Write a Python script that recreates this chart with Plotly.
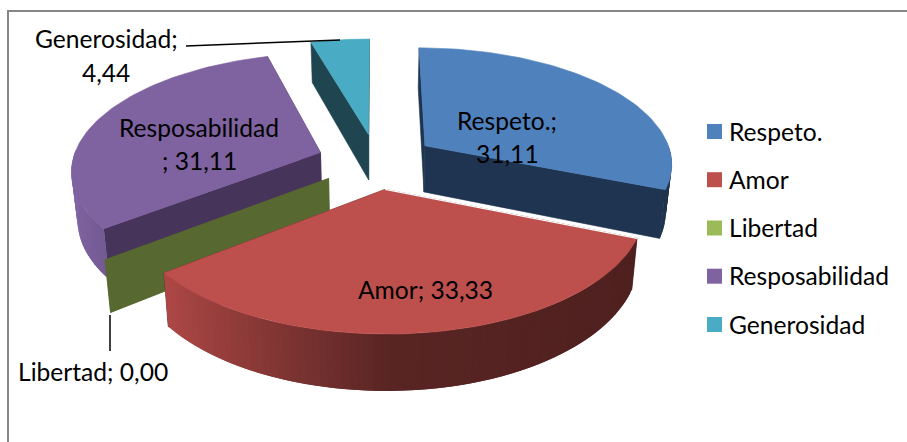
import numpy as np
import plotly.graph_objects as go

categories = ["Respeto.", "Amor", "Libertad", "Resposabilidad", "Generosidad"]
values = [31.11, 33.33, 0.00, 31.11, 4.44]

top_colors = ["#4f81bd", "#bd504d", "#9bbb59", "#7f62a0", "#4aabc5"]
cut_colors = ["#1f3450", "#4e201f", "#576831", "#46345a", "#1f4650"]
base_rgb = [(79, 129, 189), (192, 80, 77), (155, 187, 89), (128, 100, 162), (75, 172, 198)]
draw_order = [4, 0, 3, 2, 1]

CX, CY, R, A, P, D, Q, EXPL = 376.5, 161, 248, 115.6, 0.14, 47, 0.02, 0.24


def project(u, v, low=False):
    s = 1 / (1 - P * v)
    x = CX + R * u * s
    y = CY + A * v * s
    if low:
        x = CX + (x - CX) * (1 - Q)
        y = y + D * s
    return x, y


def shade(theta):
    sn = np.sin(theta)
    return 0.47 + 0.55 * (-sn) if sn < 0 else 0.47 - 0.07 * sn


fig = go.Figure()


def poly(xs, ys, color, lw=0.6):
    fig.add_trace(go.Scatter(x=list(xs), y=list(ys), mode="lines", fill="toself",
                             fillcolor=color, line=dict(color=color, width=lw),
                             hoverinfo="skip", showlegend=False))


total = sum(values)
bounds = np.cumsum([0] + values) / total * 2 * np.pi

for i in draw_order:
    a0, a1 = bounds[i], bounds[i + 1]
    mid = (a0 + a1) / 2
    ou, ov = EXPL * np.sin(mid), -EXPL * np.cos(mid)
    n = max(2, int(np.degrees(a1 - a0) / 1.5) + 1)
    ts = np.linspace(a0, a1, n)
    us = ou + np.sin(ts)
    vs = ov - np.cos(ts)
    # cut walls
    for t in (a0, a1):
        eu, ev = ou + np.sin(t), ov - np.cos(t)
        p1, p2 = project(ou, ov), project(eu, ev)
        p3, p4 = project(eu, ev, True), project(ou, ov, True)
        poly([p1[0], p2[0], p3[0], p4[0], p1[0]], [p1[1], p2[1], p3[1], p4[1], p1[1]], cut_colors[i])
    # outer wall in shaded strips (front-facing part only); strips overlap so no seam shows
    if a1 > a0:
        for j in range(n - 1):
            k = min(j + 2, n - 1)
            tm = (ts[j] + ts[j + 1]) / 2
            if np.cos(tm) > 0:
                continue
            f = shade(tm)
            r, g, b = base_rgb[i]
            col = f"rgb({int(r * f)},{int(g * f)},{int(b * f)})"
            p1, p2 = project(us[j], vs[j]), project(us[k], vs[k])
            p3, p4 = project(us[k], vs[k], True), project(us[j], vs[j], True)
            poly([p1[0], p2[0], p3[0], p4[0], p1[0]], [p1[1], p2[1], p3[1], p4[1], p1[1]], col, 0)
        # top face
        px, py = project(us, vs)
        ax, ay = project(ou, ov)
        poly([ax, *px, ax], [ay, *py, ay], top_colors[i])
    if categories[i] == "Amor":
        ex, ey = project(us[0], vs[0])
        ax, ay = project(ou, ov)
        fig.add_trace(go.Scatter(x=[ax, ex], y=[ay, ey], mode="lines",
                                 line=dict(color="white", width=1.2),
                                 hoverinfo="skip", showlegend=False))

# legend swatches
legend_y = [131.5, 179.7, 228, 276.2, 324.5]
fig.add_trace(go.Scatter(x=[714.5] * 5, y=legend_y, mode="markers",
                         marker=dict(symbol="square", size=15, color=top_colors, line=dict(width=0)),
                         hoverinfo="skip", showlegend=False))

FONT = dict(family="Lato, Carlito, sans-serif", size=24.6, color="#000000")
fmt = [f"{v:.2f}".replace(".", ",") for v in values]
annotations = []


def label(x, y, text, anchor="center", font=FONT):
    annotations.append(dict(x=x, y=y, text=text, showarrow=False, xanchor=anchor, yanchor="middle",
                            font=font, xref="x", yref="y"))


for cat, y in zip(categories, legend_y):
    label(727, y - 0.5, cat, "left")

label(507, 120, "Respeto.;")
label(507, 153, fmt[0])
label(199, 127, "Resposabilidad")
label(199, 160, "; " + fmt[3])
label(425, 289, f"Amor; {fmt[1]}")
label(106, 38, "Generosidad;")
label(106, 72, fmt[4])
label(93, 371, f"Libertad; {fmt[2]}")

shapes = [
    dict(type="line", x0=8, y0=11, x1=907, y1=11, line=dict(color="#868686", width=2)),
    dict(type="line", x0=8, y0=10, x1=8, y1=442, line=dict(color="#868686", width=2)),
    dict(type="line", x0=186, y0=46, x1=340, y1=40, line=dict(color="#000000", width=1.5)),
    dict(type="line", x0=110, y0=315, x1=110, y1=351, line=dict(color="#000000", width=1.5)),
]

fig.update_layout(
    width=907, height=442, autosize=False,
    margin=dict(l=0, r=0, t=0, b=0),
    paper_bgcolor="white", plot_bgcolor="white",
    xaxis=dict(range=[0, 907], visible=False, fixedrange=True),
    yaxis=dict(range=[442, 0], visible=False, fixedrange=True),
    annotations=annotations, shapes=shapes, showlegend=False,
)
fig.write_html("out.html", config=dict(displayModeBar=False),
               post_script="document.body.style.margin='0';document.documentElement.style.overflow='hidden';")
